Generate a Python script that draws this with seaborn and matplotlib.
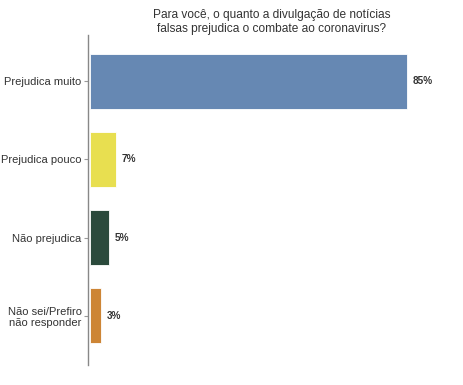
import matplotlib.pyplot as plt
import seaborn as sns
import pandas as pd

# dados
categorias = ['Prejudica muito', 'Prejudica pouco', 'Não prejudica',
              'Não sei/Prefiro\nnão responder']
valores = [85, 7, 5, 3]
rotulos = ['85%', '7%', '5%', '3%']
cores = ['#6688b3', '#e8df50', '#2b4a3c', '#cd8535']
titulo = 'Para você, o quanto a divulgação de notícias\nfalsas prejudica o combate ao coronavirus?'

sns.set_style('white')
plt.rcParams['font.family'] = ['Liberation Sans', 'DejaVu Sans']

df = pd.DataFrame({'cat': categorias, 'val': valores})

fig = plt.figure(figsize=(4.63, 3.85), dpi=100)
ax = fig.add_axes([88 / 463, 20 / 385, (456 - 88) / 463, (365 - 35) / 385])

sns.barplot(data=df, x='val', y='cat', hue='cat', palette=cores, orient='h',
            width=0.7, legend=False, ax=ax, edgecolor='white', linewidth=0.6,
            saturation=1)

for i, (v, r) in enumerate(zip(valores, rotulos)):
    ax.text(v + 1.6, i, r, va='center', ha='left', fontsize=7.2,
            fontweight='bold', color='#333333')

ax.set_xlim(-0.5, 98.2)
ax.set_ylim(3.63, -0.59)
ax.set_xlabel('')
ax.set_ylabel('')
ax.set_xticks([])
ax.tick_params(axis='y', length=3, width=0.8, color='#999999', pad=1.5,
               labelsize=8.0, labelcolor='#333333', left=True)
for s in ['top', 'right', 'bottom']:
    ax.spines[s].set_visible(False)
ax.spines['left'].set_color('#888888')
ax.spines['left'].set_linewidth(1)

ax.set_title(titulo, fontsize=8.6, color='#333333', pad=2, linespacing=1.25)

plt.savefig('out.png', dpi=100)
plt.close()
